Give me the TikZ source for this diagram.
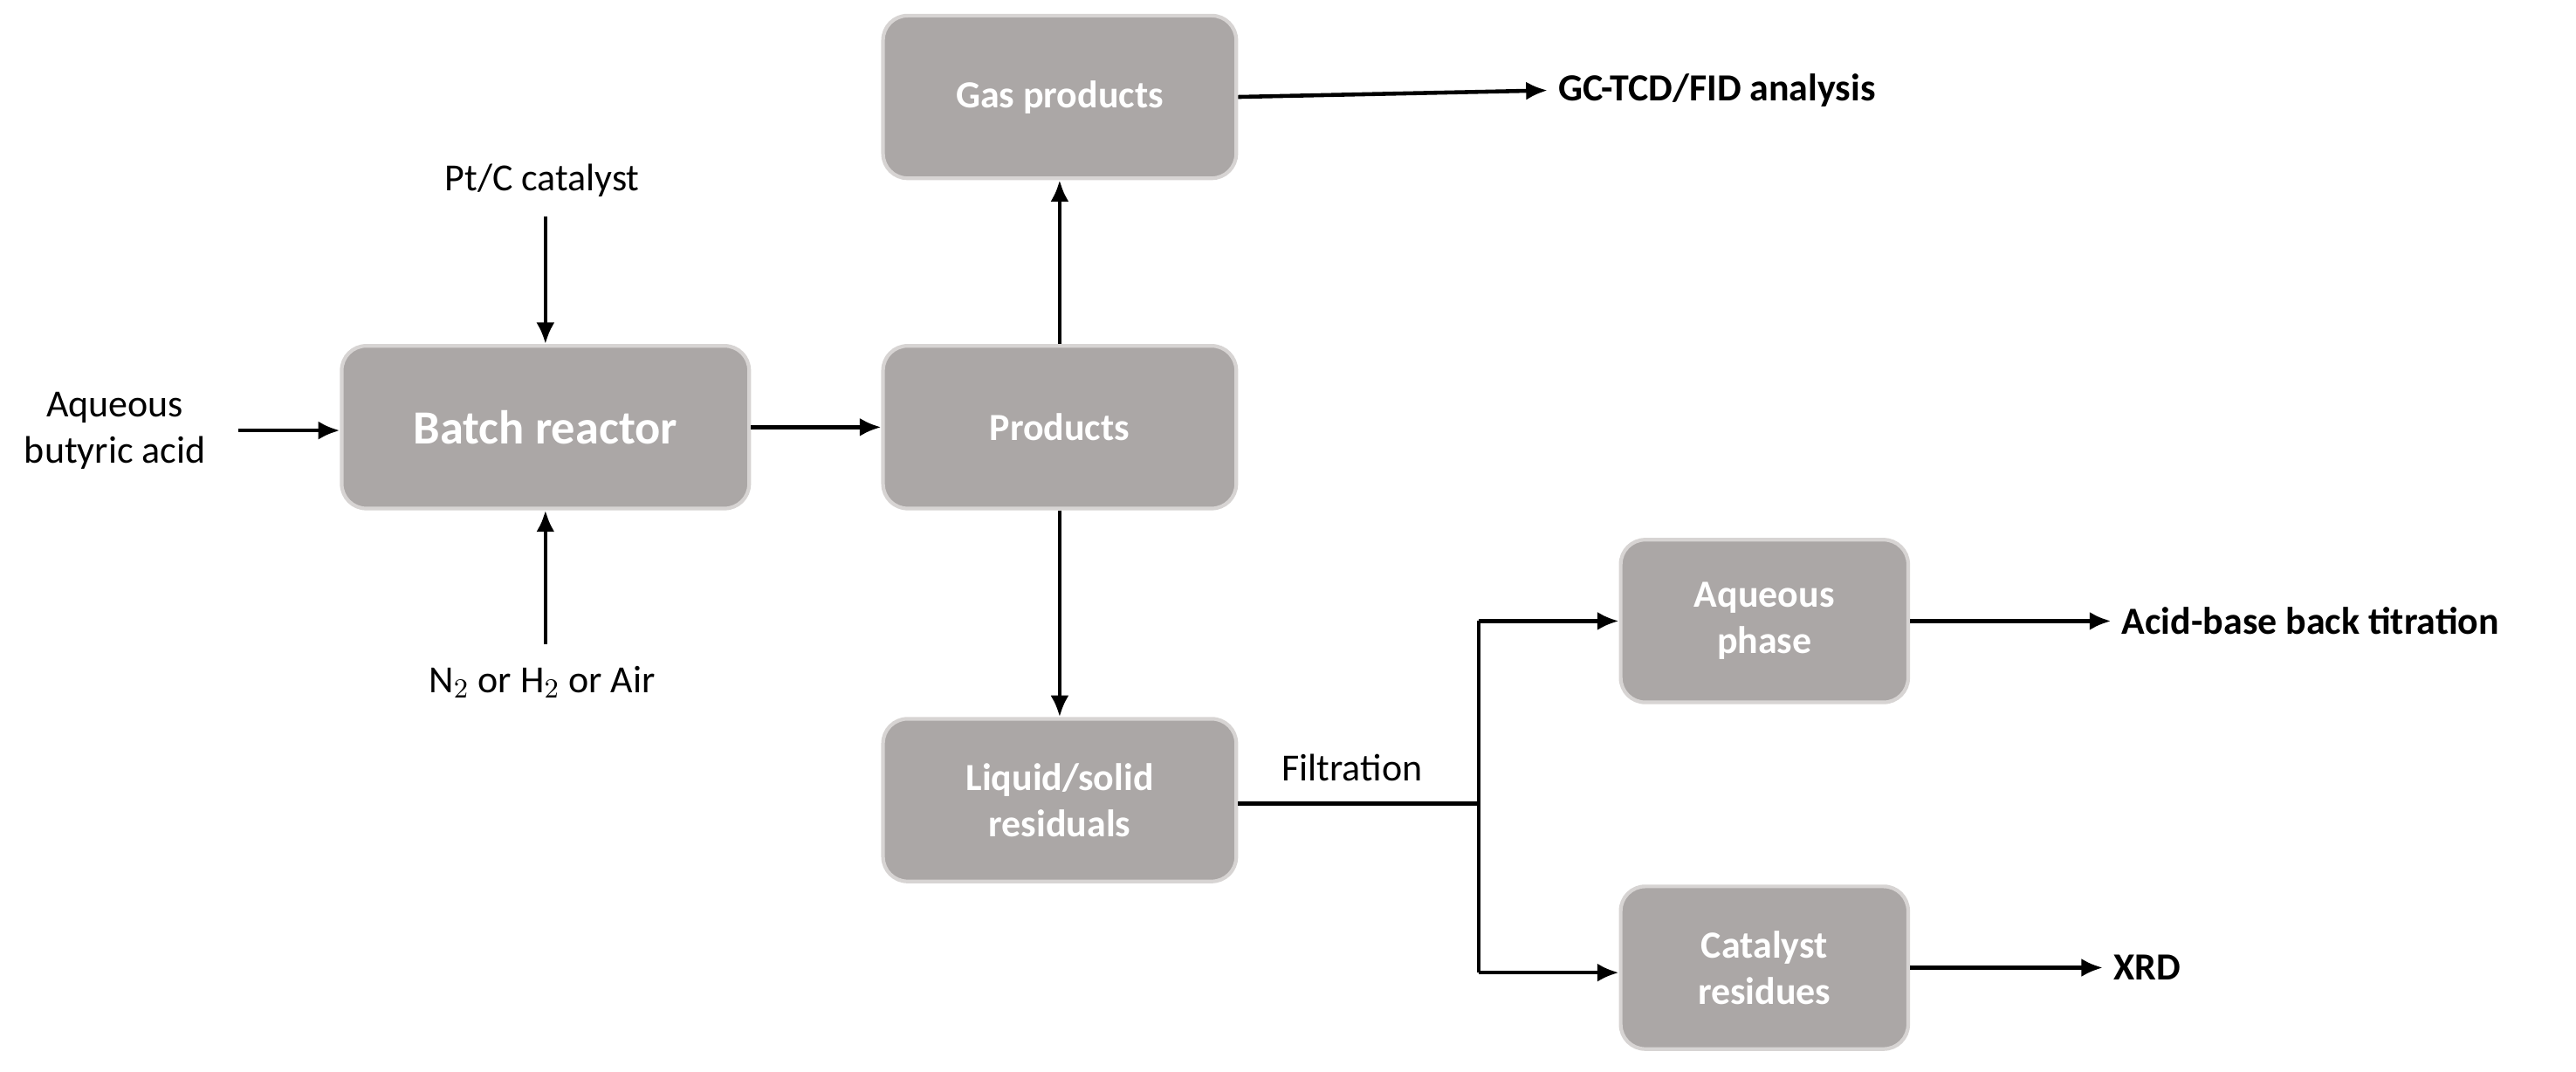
\documentclass[tikz,border=0pt]{standalone}
\usepackage{fontspec}
\setmainfont{Carlito}
\usetikzlibrary{arrows.meta}
\definecolor{boxg}{RGB}{171,167,166}
\definecolor{boxb}{RGB}{215,212,211}
\begin{document}
\begin{tikzpicture}[x=0.01882cm,y=-0.01882cm,
 box/.style={draw=boxb,line width=1.2pt,fill=boxg,rounded corners=8pt,text=white,font=\fontsize{12.5}{15}\selectfont\bfseries,align=center,minimum height=99*0.01882cm,inner sep=0pt},
 lab/.style={font=\fontsize{12.5}{15}\selectfont,align=center},
 blab/.style={font=\fontsize{12.5}{15}\selectfont\bfseries,anchor=west},
 arr/.style={-{Latex[length=7pt,width=6pt]},line width=1.3pt}]
\useasboundingbox (0,0) rectangle (1568,652);
\node[box,minimum width=248*0.01882cm,font=\fontsize{15.5}{18}\selectfont\bfseries] (br) at (332,260) {Batch reactor};
\node[box,minimum width=215*0.01882cm] (pr) at (645,260) {Products};
\node[box,minimum width=215*0.01882cm] (gas) at (645,59) {Gas products};
\node[box,minimum width=215*0.01882cm] (liq) at (645,487) {Liquid/solid\\residuals};
\node[box,minimum width=175*0.01882cm] (aq) at (1074,378) {Aqueous\\phase};
\node[box,minimum width=175*0.01882cm] (cat) at (1074,589) {Catalyst\\residues};
\node[lab] (in) at (70,262) {Aqueous\\butyric acid};
\node[lab] (pt) at (330,110) {Pt/C catalyst};
\node[lab] (gasin) at (330,415) {N$_2$ or H$_2$ or Air};
\node[blab] (gc) at (942,55) {GC-TCD/FID analysis};
\node[blab] (ab) at (1285,378) {Acid-base back titration};
\node[blab] (xrd) at (1280,589) {XRD};
\node[lab] (fil) at (823,467) {Filtration};
\coordinate (s1) at (145,262);
\coordinate (s2) at (332,132);
\coordinate (s3) at (332,392);
\coordinate (j) at (900,489);
\coordinate (jt) at (900,378);
\coordinate (jb) at (900,592);
\draw[arr] (s1) -- (br.west|-s1);
\draw[arr] (s2) -- (br.north);
\draw[arr] (s3) -- (br.south);
\draw[arr] (br.east) -- (pr.west);
\draw[arr] (pr.north) -- (gas.south);
\draw[arr] (pr.south) -- (liq.south|-liq.north);
\draw[arr] (gas.east) -- (gc.west);
\draw[line width=1.3pt] (liq.east|-j) -- (j);
\draw[line width=1.3pt] (jt) -- (jb);
\draw[arr] (jt) -- (aq.west);
\draw[arr] (jb) -- (cat.west|-jb);
\draw[arr] (aq.east) -- (ab.west);
\draw[arr] (cat.east) -- (xrd.west);
\end{tikzpicture}
\end{document}
